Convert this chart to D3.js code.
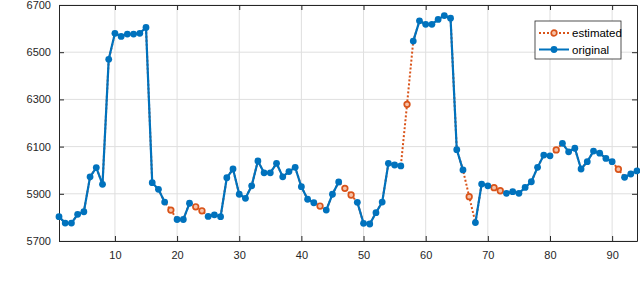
<!DOCTYPE html>
<html>
<head>
<script src="https://d3js.org/d3.v7.min.js"></script>
<style>
  body { margin: 0; background: #fff; font-family: "Liberation Sans", Arial, sans-serif; }
  #chart { display: block; }
</style>
</head>
<body>
<svg id="chart"></svg>
<script>
// index runs 1..94
const values = [
  5803, 5776, 5776, 5813, 5824, 5972, 6011, 5940, 6470, 6580,
  6567, 6577, 6577, 6580, 6605, 5947, 5919, 5865, 5831, 5791,
  5791, 5860, 5845, 5828, 5804, 5811, 5803, 5968, 6005, 5898,
  5881, 5934, 6039, 5989, 5989, 6029, 5972, 5994, 6012, 5930,
  5877, 5862, 5848, 5831, 5898, 5950, 5923, 5895, 5864, 5775,
  5772, 5820, 5865, 6029, 6022, 6018, 6279, 6547, 6633, 6618,
  6618, 6639, 6655, 6644, 6087, 6001, 5888, 5778, 5941, 5934,
  5926, 5913, 5902, 5909, 5902, 5927, 5951, 6012, 6064, 6061,
  6086, 6114, 6078, 6093, 6005, 6036, 6081, 6072, 6050, 6036,
  6004, 5970, 5984, 5997
];
const estimatedIdx = [19, 23, 24, 43, 47, 48, 57, 67, 71, 72, 81, 91];
const xTicks = [10, 20, 30, 40, 50, 60, 70, 80, 90];
const yTicks = [5700, 5900, 6100, 6300, 6500, 6700];
const seriesNames = ["estimated", "original"];

const width = 640, height = 289;
const margin = { top: 5, right: 3, bottom: 48, left: 59 };
const blue = "#0072BD", orange = "#D95319";

const all = values.map((v, i) => ({ x: i + 1, y: v }));
const estimated = all.filter(d => estimatedIdx.includes(d.x));
const original = all.map(d => ({ x: d.x, y: estimatedIdx.includes(d.x) ? null : d.y }));

const x = d3.scaleLinear().domain([1, 94]).range([margin.left, width - margin.right]);
const y = d3.scaleLinear().domain([5700, 6700]).range([height - margin.bottom, margin.top]);

const svg = d3.select("#chart").attr("width", width).attr("height", height);

// grid
svg.append("g").selectAll("line").data(xTicks).join("line")
    .attr("x1", d => x(d)).attr("x2", d => x(d))
    .attr("y1", y(5700)).attr("y2", y(6700))
    .attr("stroke", "#dfdfdf").attr("stroke-width", 1);
svg.append("g").selectAll("line").data(yTicks).join("line")
    .attr("x1", x(1)).attr("x2", x(94))
    .attr("y1", d => y(d)).attr("y2", d => y(d))
    .attr("stroke", "#dfdfdf").attr("stroke-width", 1);

// axes (ticks inside, box)
const tickLen = 5;
const axisColor = "#262626";
svg.append("g")
    .attr("transform", `translate(0,${y(5700)})`)
    .call(d3.axisBottom(x).tickValues(xTicks).tickSizeInner(-tickLen).tickSizeOuter(0).tickPadding(10))
    .call(g => g.select(".domain").attr("stroke", axisColor))
    .call(g => g.selectAll(".tick line").attr("stroke", axisColor))
    .call(g => g.selectAll("text").attr("font-size", 11).attr("fill", axisColor)
        .attr("font-family", "Liberation Sans, Arial, sans-serif"));
svg.append("g")
    .attr("transform", `translate(${x(1)},0)`)
    .call(d3.axisLeft(y).tickValues(yTicks).tickSizeInner(-tickLen).tickSizeOuter(0).tickPadding(8).tickFormat(d3.format("d")))
    .call(g => g.select(".domain").attr("stroke", axisColor))
    .call(g => g.selectAll(".tick line").attr("stroke", axisColor))
    .call(g => g.selectAll("text").attr("font-size", 11).attr("fill", axisColor)
        .attr("font-family", "Liberation Sans, Arial, sans-serif"));
svg.append("g")
    .attr("transform", `translate(0,${y(6700)})`)
    .call(d3.axisTop(x).tickValues(xTicks).tickSizeInner(-tickLen).tickSizeOuter(0).tickFormat(""))
    .call(g => g.select(".domain").attr("stroke", axisColor))
    .call(g => g.selectAll(".tick line").attr("stroke", axisColor));
svg.append("g")
    .attr("transform", `translate(${x(94)},0)`)
    .call(d3.axisRight(y).tickValues(yTicks).tickSizeInner(-tickLen).tickSizeOuter(0).tickFormat(""))
    .call(g => g.select(".domain").attr("stroke", axisColor))
    .call(g => g.selectAll(".tick line").attr("stroke", axisColor));

const line = d3.line().defined(d => d.y !== null).x(d => x(d.x)).y(d => y(d.y));

// estimated: dotted through everything, drawn underneath
svg.append("path").datum(all)
    .attr("d", line)
    .attr("fill", "none").attr("stroke", orange).attr("stroke-width", 2)
    .attr("stroke-dasharray", "2,2");

svg.append("g").selectAll("circle").data(estimated).join("circle")
    .attr("cx", d => x(d.x)).attr("cy", d => y(d.y)).attr("r", 2.8)
    .attr("fill", "#f6c2a8").attr("stroke", orange).attr("stroke-width", 1.7);

// original
svg.append("path").datum(original)
    .attr("d", line)
    .attr("fill", "none").attr("stroke", blue).attr("stroke-width", 2.2);

svg.append("g").selectAll("circle").data(original.filter(d => d.y !== null)).join("circle")
    .attr("cx", d => x(d.x)).attr("cy", d => y(d.y)).attr("r", 3.4)
    .attr("fill", blue);

// legend
const lg = svg.append("g").attr("transform", "translate(535,21)");
lg.append("rect").attr("width", 86).attr("height", 38)
    .attr("fill", "#fff").attr("stroke", axisColor).attr("stroke-width", 0.8);
seriesNames.forEach((name, i) => {
    const row = lg.append("g").attr("transform", `translate(0,${12 + i * 16.5})`);
    const isEst = name === "estimated";
    row.append("line").attr("x1", 4).attr("x2", 34)
        .attr("stroke", isEst ? orange : blue).attr("stroke-width", 2)
        .attr("stroke-dasharray", isEst ? "2,2" : null);
    row.append("circle").attr("cx", 19).attr("r", isEst ? 2.8 : 3.4)
        .attr("fill", isEst ? "#f6c2a8" : blue)
        .attr("stroke", isEst ? orange : "none").attr("stroke-width", 1.7);
    row.append("text").attr("x", 37).attr("dy", "0.35em")
        .attr("font-size", 11.5).attr("fill", "#000").text(name);
});
</script>
</body>
</html>
